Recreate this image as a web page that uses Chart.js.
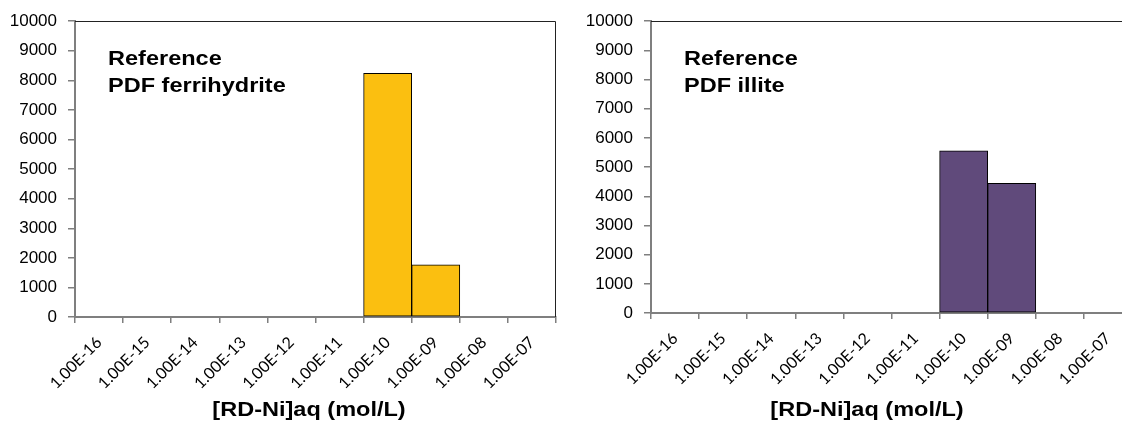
<!DOCTYPE html>
<html>
<head>
<meta charset="utf-8">
<script src="https://cdn.jsdelivr.net/npm/chart.js@4"></script>
<style>
    html, body { margin: 0; padding: 0; background: #fff; overflow: hidden; width: 1122px; height: 423px; }
    canvas { position: absolute; top: 0; }
    #leftChart { left: 0; }
    #rightChart { left: 580px; }
</style>
</head>
<body>
<canvas id="leftChart" width="561" height="423"></canvas>
<canvas id="rightChart" width="600" height="423"></canvas>
<script>
// categories on the x axis
const bins = [
    '1.00E-16', '1.00E-15', '1.00E-14', '1.00E-13', '1.00E-12',
    '1.00E-11', '1.00E-10', '1.00E-09', '1.00E-08', '1.00E-07'
];
const ferrihydrite = [0, 0, 0, 0, 0, 0, 8240, 1760, 0, 0];
const illite = [0, 0, 0, 0, 0, 0, 5560, 4440, 0, 0];
const yMax = 10000;
const yStep = 1000;
const xTitle = '[RD-Ni]aq (mol/L)';

const axisGray = '#7f7f7f';

// draws the box border, the label inside the plot and the axis title
const panelText = {
    id: 'panelText',
    afterDraw(chart, args, opts) {
        const ctx = chart.ctx;
        const area = chart.chartArea;
        ctx.save();
        ctx.strokeStyle = '#222';
        ctx.lineWidth = 1;
        ctx.beginPath();
        ctx.moveTo(area.left, Math.round(area.top) + 0.5);
        ctx.lineTo(Math.round(area.right) - 0.5, Math.round(area.top) + 0.5);
        ctx.lineTo(Math.round(area.right) - 0.5, area.bottom);
        ctx.stroke();

        ctx.fillStyle = '#000';
        ctx.font = 'bold 21px "Liberation Sans", Arial, sans-serif';
        ctx.textBaseline = 'alphabetic';
        const stretch = (str, x, y, align) => {
            ctx.save();
            ctx.translate(x, y);
            ctx.scale(1.12, 1);
            ctx.textAlign = align;
            ctx.fillText(str, 0, 0);
            ctx.restore();
        };
        opts.lines.forEach((line, i) => {
            stretch(line, area.left + 33, area.top + 44 + i * 27, 'left');
        });
        stretch(xTitle, opts.titleX, 416, 'center');
        ctx.restore();
    }
};

function makeChart(id, values, color, lines, box) {
    return new Chart(document.getElementById(id), {
        type: 'bar',
        data: {
            labels: bins,
            datasets: [{
                data: values,
                backgroundColor: c => (c.raw > 0 ? color : 'rgba(0,0,0,0)'),
                borderColor: '#000',
                borderWidth: c => (c.raw > 0 ? 1 : 0),
                borderSkipped: false,
                barPercentage: 1,
                categoryPercentage: 1
            }]
        },
        options: {
            responsive: false,
            animation: false,
            layout: {
                padding: { top: box.top, right: box.right, left: 0, bottom: 0 }
            },
            plugins: {
                legend: { display: false },
                tooltip: { enabled: false },
                panelText: { lines: lines, titleX: box.titleX }
            },
            scales: {
                x: {
                    grid: { offset: true, drawOnChartArea: false, tickLength: 6, color: axisGray, lineWidth: 1.5 },
                    border: { color: axisGray, width: 2 },
                    ticks: {
                        autoSkip: false,
                        minRotation: 45,
                        maxRotation: 45,
                        padding: 10,
                        labelOffset: 0,
                        color: '#000',
                        font: { family: 'Lato', size: 16 }
                    },
                    afterFit: s => { s.height = box.xHeight; }
                },
                y: {
                    min: 0,
                    max: yMax,
                    grid: { drawOnChartArea: false, tickLength: 7, color: axisGray, lineWidth: 1.5 },
                    border: { color: axisGray, width: 2 },
                    ticks: {
                        stepSize: yStep,
                        padding: 11,
                        color: '#000',
                        font: { family: '"Liberation Sans", Arial', size: 17 },
                        callback: v => String(v)
                    },
                    afterFit: s => { s.width = box.yWidth; }
                }
            }
        },
        plugins: [panelText]
    });
}

makeChart('leftChart', ferrihydrite, '#FBBF10', ['Reference', 'PDF ferrihydrite'],
    { top: 19, right: 5, yWidth: 75, xHeight: 106, titleX: 309 });
makeChart('rightChart', illite, '#604A7B', ['Reference', 'PDF illite'],
    { top: 19, right: 48, yWidth: 71, xHeight: 110, titleX: 287 });
</script>
</body>
</html>
